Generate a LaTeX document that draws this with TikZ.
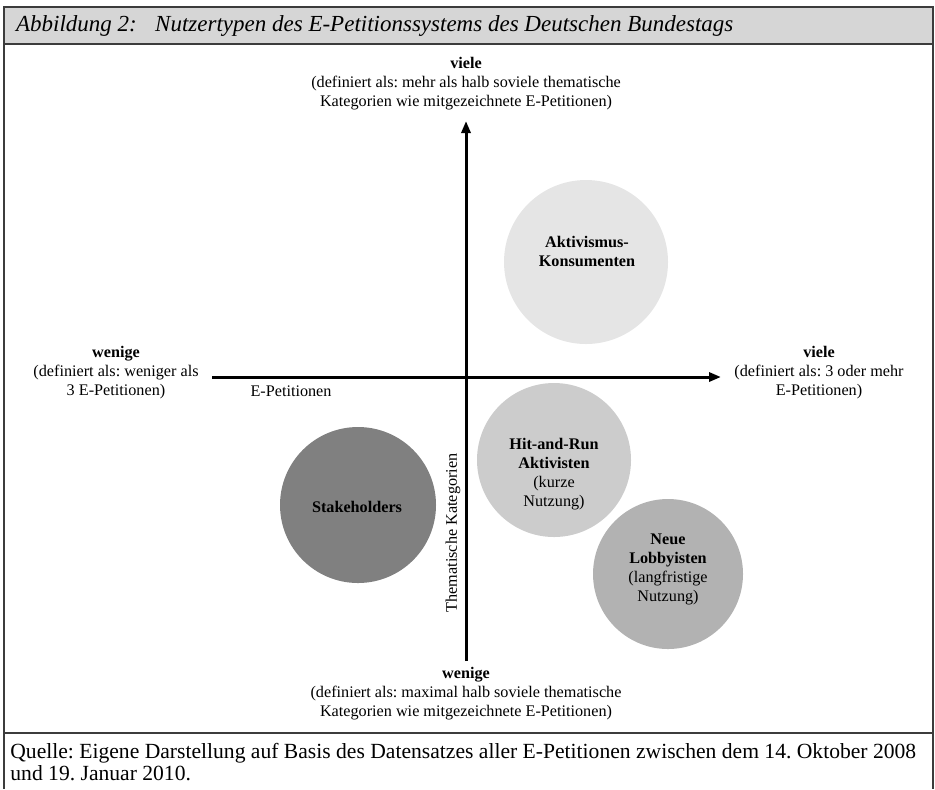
\documentclass[tikz,border=0pt]{standalone}
\usepackage{fontspec}
\setmainfont{Liberation Serif}
\usetikzlibrary{arrows.meta,positioning}
\definecolor{Frame}{HTML}{3C3C3C}
\definecolor{TitleGray}{HTML}{D6D6D6}
\frenchspacing

\begin{document}
\begin{tikzpicture}[x=0.5pt,y=-0.5pt,
  lbl/.style={align=center,font=\fontsize{8.1}{9.5}\selectfont,inner sep=0pt},
  blob/.style={circle,draw=none,inner sep=0pt},
  axis/.style={-{Triangle[length=6pt,width=4.5pt]},line width=1.5pt,black},
  frame/.style={draw=Frame,line width=0.9pt}]
  \useasboundingbox (0,0) rectangle (935,789);
  % frame
  \path[frame,fill=TitleGray] (4,7) rectangle (933,44);
  \draw[frame] (4,44) -- (4,789);
  \draw[frame] (933,44) -- (933,789);
  \draw[frame] (4,733) -- (933,733);
  \node[anchor=west,font=\fontsize{11.5}{14}\itshape] (title) at (9,26)
    {Abbildung 2:\hspace{0.8em}Nutzertypen des E-Petitionssystems des Deutschen Bundestags};
  % circles
  \node[blob,fill=black!10,minimum size=82pt] (aktiv) at (586,262) {};
  \node[blob,fill=black!20,minimum size=77pt] (hitrun) at (554,460) {};
  \node[blob,fill=black!30,minimum size=75pt] (lobby) at (668,574) {};
  \node[blob,fill=black!50,minimum size=78pt] (stake) at (358,505) {};
  \node[lbl,font=\fontsize{8.1}{9.5}\bfseries] at (587,251) {Aktivismus-\\Konsumenten};
  \node[lbl] at (554,474) {\textbf{Hit-and-Run}\\\textbf{Aktivisten}\\(kurze\\Nutzung)};
  \node[lbl] at (668,569) {\textbf{Neue}\\\textbf{Lobbyisten}\\(langfristige\\Nutzung)};
  \node[lbl,font=\fontsize{8.1}{9.5}\bfseries] at (357,507) {Stakeholders};
  % axes
  \coordinate (xl) at (212,377);
  \coordinate (xr) at (721,377);
  \coordinate (yb) at (466,661);
  \coordinate (yt) at (466,121);
  \draw[axis] (xl) -- (xr);
  \draw[axis] (yb) -- (yt);
  \node[lbl] (xname) at (291,391) {E-Petitionen};
  \node[lbl,rotate=90] (yname) at (453,533) {Thematische Kategorien};
  % axis ends
  \node[lbl] (top) at (466,84) {\textbf{viele}\\(definiert als: mehr als halb soviele thematische\\Kategorien wie mitgezeichnete E-Petitionen)};
  \node[lbl] (bottom) at (466,694) {\textbf{wenige}\\(definiert als: maximal halb soviele thematische\\Kategorien wie mitgezeichnete E-Petitionen)};
  \node[lbl] (left) at (116,373) {\textbf{wenige}\\(definiert als: weniger als\\3 E-Petitionen)};
  \node[lbl] (right) at (819,373) {\textbf{viele}\\(definiert als: 3 oder mehr\\E-Petitionen)};
  % caption
  \node[anchor=north west,align=left,inner sep=0pt,
    font=\fontsize{10.8}{11}\selectfont] (source) at (10,743)
    {Quelle: Eigene Darstellung auf Basis des Datensatzes aller E-Petitionen zwischen dem 14. Oktober 2008\\und 19. Januar 2010.};
\end{tikzpicture}
\end{document}
